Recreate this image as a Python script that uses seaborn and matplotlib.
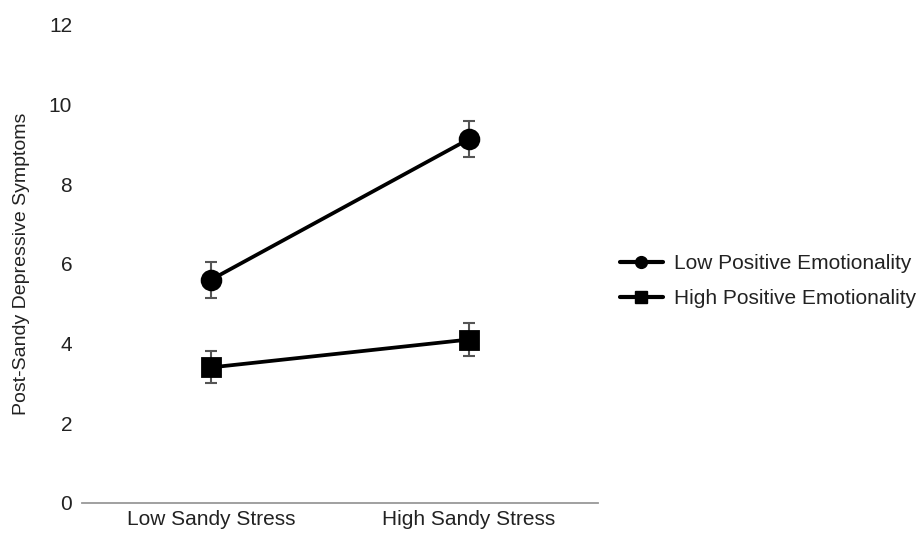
import pandas as pd
import matplotlib.pyplot as plt
import seaborn as sns
from matplotlib.lines import Line2D

# Values
stress_levels = ['Low Sandy Stress', 'High Sandy Stress']
groups = ['Low Positive Emotionality', 'High Positive Emotionality']
low_pe_means = [5.6, 9.13]
low_pe_err = [0.45, 0.46]
high_pe_means = [3.4, 4.1]
high_pe_err = [0.4, 0.42]
group_markers = ['o', 's']

sns.set_theme(style='white')
plt.rcParams['font.family'] = ['Liberation Sans', 'DejaVu Sans']

df = pd.DataFrame({
    'stress': stress_levels * 2,
    'group': [groups[0]] * 2 + [groups[1]] * 2,
    'symptoms': low_pe_means + high_pe_means,
    'err': low_pe_err + high_pe_err,
})

fig = plt.figure(figsize=(9.21, 5.39), dpi=100)
ax = fig.add_axes([0.089, 0.067, 0.56, 0.887])

sns.pointplot(data=df, x='stress', y='symptoms', hue='group', order=stress_levels,
              hue_order=groups, palette=['black', 'black'], markers=group_markers,
              linestyles=['-', '-'], errorbar=None, markersize=13.5, linewidth=2.7,
              ax=ax, legend=False)

# error bars from the given values
for g in groups:
    sub = df[df['group'] == g].set_index('stress').loc[stress_levels]
    ax.errorbar(range(len(stress_levels)), sub['symptoms'], yerr=sub['err'], fmt='none',
                ecolor='#555555', elinewidth=1.5, capsize=4, capthick=1.5, zorder=1)

ax.set_xlim(-0.5, 1.5)
ax.set_ylim(0, 12)
ax.set_yticks(range(0, 13, 2))
ax.set_xlabel('')
ax.set_ylabel('Post-Sandy Depressive Symptoms', fontsize=14, color='#222222')
ax.yaxis.set_label_coords(-0.1, 0.5)
ax.tick_params(axis='both', length=0, labelsize=15, colors='#222222')
ax.tick_params(axis='y', pad=7)
ax.tick_params(axis='x', pad=5)
for s in ['top', 'right', 'left']:
    ax.spines[s].set_visible(False)
ax.spines['bottom'].set_color('#999999')
ax.spines['bottom'].set_linewidth(1.3)

handles = [Line2D([], [], color='black', lw=3, marker=m, markersize=8.5) for m in group_markers]
fig.legend(handles, groups, loc='center left', bbox_to_anchor=(0.673, 0.478), frameon=False,
           fontsize=15, handlelength=2.07, handletextpad=0.53, labelspacing=0.78,
           borderpad=0, borderaxespad=0, labelcolor='#222222')

fig.savefig('out.png', dpi=100)
